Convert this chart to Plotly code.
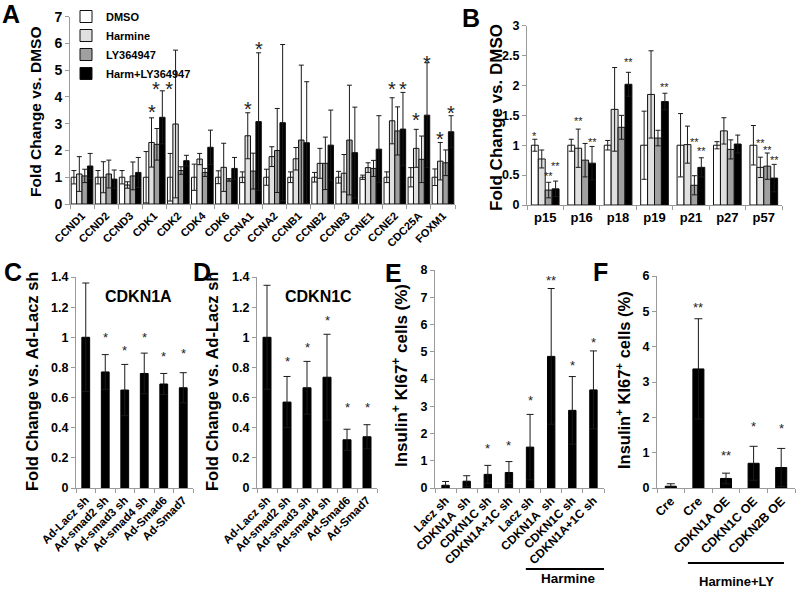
import plotly.graph_objects as go

FONT = "Liberation Sans"
AXC = "#9a9a9a"
W, H = 800, 590

# ---------------- Panel A data ----------------
a_genes = ["CCND1", "CCND2", "CCND3", "CDK1", "CDK2", "CDK4", "CDK6", "CCNA1",
           "CCNA2", "CCNB1", "CCNB2", "CCNB3", "CCNE1", "CCNE2", "CDC25A", "FOXM1"]
a_series = ["DMSO", "Harmine", "LY364947", "Harm+LY364947"]
a_dmso = [1.0, 1.0, 1.0, 1.0, 1.0, 1.0, 1.0, 1.0, 1.0, 1.0, 1.0, 1.0, 1.0, 1.0, 1.0, 1.0]
a_dmso_err = [0.25, 0.25, 0.25, 0.96, 0.89, 0.49, 0.24, 0.2, 0.3, 0.2, 0.18, 0.22, 0.08, 0.2, 0.36, 0.31]
a_harm = [1.12, 1.0, 0.71, 2.3, 2.99, 1.68, 1.37, 2.55, 1.77, 1.69, 1.52, 1.15, 1.36, 3.11, 2.08, 1.6]
a_harm_err = [0.65, 0.58, 0.12, 0.92, 2.76, 0.21, 0.9, 0.86, 0.37, 0.42, 0.56, 0.7, 0.18, 0.86, 0.71, 0.7]
a_ly = [1.05, 1.12, 1.05, 2.23, 1.25, 1.18, 0.9, 1.23, 2.0, 2.39, 1.52, 2.39, 1.33, 2.73, 1.67, 1.54]
a_ly_err = [0.25, 0.52, 0.52, 0.59, 0.14, 0.15, 0.05, 0.67, 1.57, 2.8, 0.98, 2.05, 0.3, 0.9, 0.87, 0.48]
a_hly = [1.42, 0.93, 1.18, 3.24, 1.62, 2.12, 1.33, 3.08, 3.04, 2.29, 2.2, 1.92, 2.05, 2.8, 3.32, 2.7]
a_hly_err = [0.47, 0.34, 0.56, 0.99, 0.2, 0.64, 0.41, 2.57, 2.92, 2.28, 1.31, 1.7, 1.25, 1.37, 1.96, 0.6]
a_star_cat = [3, 3, 7, 7, 13, 13, 14, 14, 15, 15]
a_star_ser = [1, 3, 1, 3, 1, 3, 1, 3, 1, 3]
a_star_txt = ["*", "* *", "*", "*", "*", "*", "*", "*", "*", "*"]
a_star_y = [3.6, 4.45, 3.7, 5.94, 4.45, 4.45, 3.32, 5.44, 2.58, 3.57]

# ---------------- Panel B data ----------------
b_genes = ["p15", "p16", "p18", "p19", "p21", "p27", "p57"]
b_dmso = [1.0, 1.0, 1.0, 1.0, 1.0, 1.0, 1.0]
b_dmso_err = [0.1, 0.1, 0.08, 0.57, 0.53, 0.06, 0.33]
b_harm = [0.77, 0.95, 1.6, 1.85, 1.01, 1.24, 0.63]
b_harm_err = [0.15, 0.32, 0.7, 0.73, 0.31, 0.22, 0.17]
b_ly = [0.25, 0.75, 1.3, 1.12, 0.33, 0.93, 0.65]
b_ly_err = [0.13, 0.28, 0.2, 0.13, 0.16, 0.16, 0.22]
b_hly = [0.27, 0.7, 2.02, 1.73, 0.63, 1.02, 0.45]
b_hly_err = [0.13, 0.28, 0.2, 0.14, 0.16, 0.15, 0.23]
b_star_cat = [0, 0, 0, 1, 1, 2, 3, 4, 4, 6, 6, 6]
b_star_ser = [0, 2, 3, 1, 3, 3, 3, 2, 3, 1, 2, 3]
b_star_txt = ["*", "**", "**", "**", "**", "**", "**", "**", "**", "**", "**", "**"]
b_star_y = [1.2, 0.53, 0.69, 1.44, 1.09, 2.43, 2.01, 1.09, 0.94, 1.08, 0.96, 0.79]

# ---------------- Panel C / D data ----------------
cd_labels = ["Ad-Lacz sh", "Ad-smad2 sh", "Ad-smad3 sh", "Ad-smad4 sh", "Ad-Smad6", "Ad-Smad7"]
c_vals = [1.0, 0.77, 0.65, 0.76, 0.69, 0.665]
c_err = [0.36, 0.115, 0.17, 0.135, 0.07, 0.1]
c_star_y = [None, 1.02, 0.93, 1.02, 0.89, 0.91]
d_vals = [1.0, 0.57, 0.665, 0.735, 0.32, 0.34]
d_err = [0.345, 0.17, 0.175, 0.285, 0.07, 0.08]
d_star_y = [None, 0.86, 0.95, 1.13, 0.55, 0.55]

# ---------------- Panel E data ----------------
e_labels = ["Lacz sh", "CDKN1A  sh", "CDKN1C sh", "CDKN1A+1C sh",
            "Lacz sh", "CDKN1A  sh", "CDKN1C sh", "CDKN1A+1C sh"]
e_vals = [0.1, 0.25, 0.5, 0.57, 1.5, 4.83, 2.85, 3.6]
e_err = [0.14, 0.2, 0.33, 0.4, 1.2, 2.49, 1.24, 1.43]
e_star_txt = [None, None, "*", "*", "*", "**", "*", "*"]
e_star_y = [None, None, 1.56, 1.66, 3.31, 7.72, 4.6, 5.46]

# ---------------- Panel F data ----------------
f_labels = ["Cre", "Cre", "CDKN1A OE", "CDKN1C OE", "CDKN2B OE"]
f_vals = [0.05, 3.37, 0.27, 0.7, 0.58]
f_err = [0.07, 1.42, 0.15, 0.48, 0.54]
f_star_txt = [None, "**", "**", "*", "*"]
f_star_y = [None, 5.18, 1.0, 1.81, 1.77]

COLORS = ["#ffffff", "#e0e0e0", "#a0a0a0", "#000000"]

fig = go.Figure()


def err(arr, w):
    return dict(type="data", array=arr, visible=True, color="#1a1a1a", thickness=1, width=w)


def grouped(ax, genes, series_vals, series_errs, bw, names, show, cap):
    n = len(series_vals)
    for j, (v, e) in enumerate(zip(series_vals, series_errs)):
        xs = [i + (j - (n - 1) / 2) * bw for i in range(len(genes))]
        fig.add_trace(go.Bar(
            x=xs, y=v, width=bw, name=names[j], showlegend=show,
            marker=dict(color=COLORS[j], line=dict(color="#111111", width=1)),
            error_y=err(e, cap), xaxis="x" + ax, yaxis="y" + ax))
    return n


grouped("", a_genes, [a_dmso, a_harm, a_ly, a_hly],
        [a_dmso_err, a_harm_err, a_ly_err, a_hly_err], 0.225, a_series, True, 2.5)
grouped("2", b_genes, [b_dmso, b_harm, b_ly, b_hly],
        [b_dmso_err, b_harm_err, b_ly_err, b_hly_err], 0.19, a_series, False, 2.5)

for ax, vals, e, bw, cap in [("3", c_vals, c_err, 0.4, 3.5), ("4", d_vals, d_err, 0.4, 3.5),
                             ("5", e_vals, e_err, 0.35, 3.5), ("6", f_vals, f_err, 0.4, 4)]:
    fig.add_trace(go.Bar(x=list(range(len(vals))), y=vals, width=bw, showlegend=False,
                         marker=dict(color="#000000", line=dict(color="#000000", width=1)),
                         error_y=err(e, cap), xaxis="x" + ax, yaxis="y" + ax))

annotations = []


def star(xref, yref, x, y, txt, size):
    annotations.append(dict(x=x, y=y, xref=xref, yref=yref, text=txt, showarrow=False,
                            font=dict(family=FONT, size=size, color="#222222"),
                            yanchor="middle", yshift=-0.22 * size))


for c, s, t, y in zip(a_star_cat, a_star_ser, a_star_txt, a_star_y):
    star("x", "y", c + (s - 1.5) * 0.225, y, t, 20)
for c, s, t, y in zip(b_star_cat, b_star_ser, b_star_txt, b_star_y):
    star("x2", "y2", c + (s - 1.5) * 0.19, y, t, 11)
for i, y in enumerate(c_star_y):
    if y is not None:
        star("x3", "y3", i, y, "*", 13)
for i, y in enumerate(d_star_y):
    if y is not None:
        star("x4", "y4", i, y, "*", 13)
for i, (t, y) in enumerate(zip(e_star_txt, e_star_y)):
    if t is not None:
        star("x5", "y5", i, y, t, 13)
for i, (t, y) in enumerate(zip(f_star_txt, f_star_y)):
    if t is not None:
        star("x6", "y6", i, y, t, 13)


def px(x):
    return x / W


def py(y):
    return 1 - y / H


def text(x, y, t, size, angle=0, weight="bold"):
    annotations.append(dict(x=px(x), y=py(y), xref="paper", yref="paper", text=t,
                            showarrow=False, textangle=angle,
                            font=dict(family=FONT, size=size, color="black", weight=weight),
                            xanchor="center", yanchor="middle"))


# panel letters
for L, x, y in [("A", 11, 14), ("B", 471, 18), ("C", 13, 272), ("D", 202, 272),
                ("E", 393, 273), ("F", 600, 272)]:
    text(x, y, L, 25)

# axis titles
text(35, 112, "Fold Change vs. DMSO", 15.5, -90)
text(497, 118, "Fold Change vs. DMSO", 17, -90)
text(32, 382, "Fold Change vs. Ad-Lacz sh", 16.5, -90)
text(212, 382, "Fold Change vs. Ad-Lacz sh", 16.5, -90)
text(400, 376, "Insulin<sup>+</sup> KI67<sup>+</sup> cells (%)", 17, -90)
text(623, 380, "Insulin<sup>+</sup> KI67<sup>+</sup> cells (%)", 16.5, -90)

# panel titles
text(138, 297, "CDKN1A", 16)
text(318, 297, "CDKN1C", 16)

# group labels
text(568, 578, "Harmine", 13.5)
text(736, 581, "Harmine+LY", 13)

shapes = [
    dict(type="line", xref="x5", yref="paper", x0=3.8, x1=7.59, y0=py(569), y1=py(569),
         line=dict(color="black", width=2)),
    dict(type="line", xref="x6", yref="paper", x0=0.62, x1=4.1, y0=py(563), y1=py(563),
         line=dict(color="black", width=2)),
]


def yax(d0, d1, rng, dtick, fs, anchor):
    return dict(domain=[py(d1), py(d0)], range=rng, dtick=dtick, tick0=0, showline=True,
                linecolor=AXC, linewidth=1, ticks="outside", ticklen=4, tickcolor=AXC,
                tickfont=dict(family=FONT, size=fs, color="black", weight="bold"),
                showgrid=False, zeroline=False, anchor=anchor, fixedrange=True,
                automargin=False)


def xax(x0, x1, labels, fs, angle, anchor):
    n = len(labels)
    return dict(domain=[px(x0), px(x1)], range=[-0.5, n - 0.5], tickmode="array",
                tickvals=list(range(n)), ticktext=labels, ticks="", tickangle=angle,
                showline=True, linecolor=AXC, linewidth=1,
                minor=dict(ticks="outside", tick0=0.5, dtick=1, ticklen=4, tickcolor=AXC),
                tickfont=dict(family=FONT, size=fs, color="black", weight="bold"),
                showgrid=False, zeroline=False, anchor=anchor, fixedrange=True,
                automargin=False)


fig.update_layout(
    template="none",
    width=W, height=H, margin=dict(l=0, r=0, t=0, b=0, pad=0, autoexpand=False),
    paper_bgcolor="white", plot_bgcolor="white", barmode="overlay",
    showlegend=True,
    legend=dict(x=px(66), y=py(2), xanchor="left", yanchor="top", bgcolor="rgba(0,0,0,0)",
                font=dict(family=FONT, size=11, color="black", weight="bold"),
                itemwidth=30, tracegroupgap=0, traceorder="normal"),
    xaxis=xax(70, 455, a_genes, 11, -45, "y"),
    yaxis=yax(16.7, 204, [0, 7], 1, 14, "x"),
    xaxis2=xax(527, 782, b_genes, 13, 0, "y2"),
    yaxis2=yax(25.7, 205, [0, 3], 0.5, 12.5, "x2"),
    xaxis3=xax(76, 193, cd_labels, 11.5, -45, "y3"),
    yaxis3=yax(277, 488, [0, 1.4], 0.2, 12.5, "x3"),
    xaxis4=xax(257, 377, cd_labels, 11.5, -45, "y4"),
    yaxis4=yax(277, 488, [0, 1.4], 0.2, 12.5, "x4"),
    xaxis5=xax(435, 604, e_labels, 12, -45, "y5"),
    yaxis5=yax(270, 488, [0, 8], 1, 12.5, "x5"),
    xaxis6=xax(657, 795, f_labels, 12.5, -45, "y6"),
    yaxis6=yax(276, 488, [0, 6], 1, 12.5, "x6"),
    annotations=annotations, shapes=shapes,
)

fig.write_html("out.html", config={"displayModeBar": False},
               post_script="document.body.style.margin='0px';document.body.style.overflow='hidden';")
